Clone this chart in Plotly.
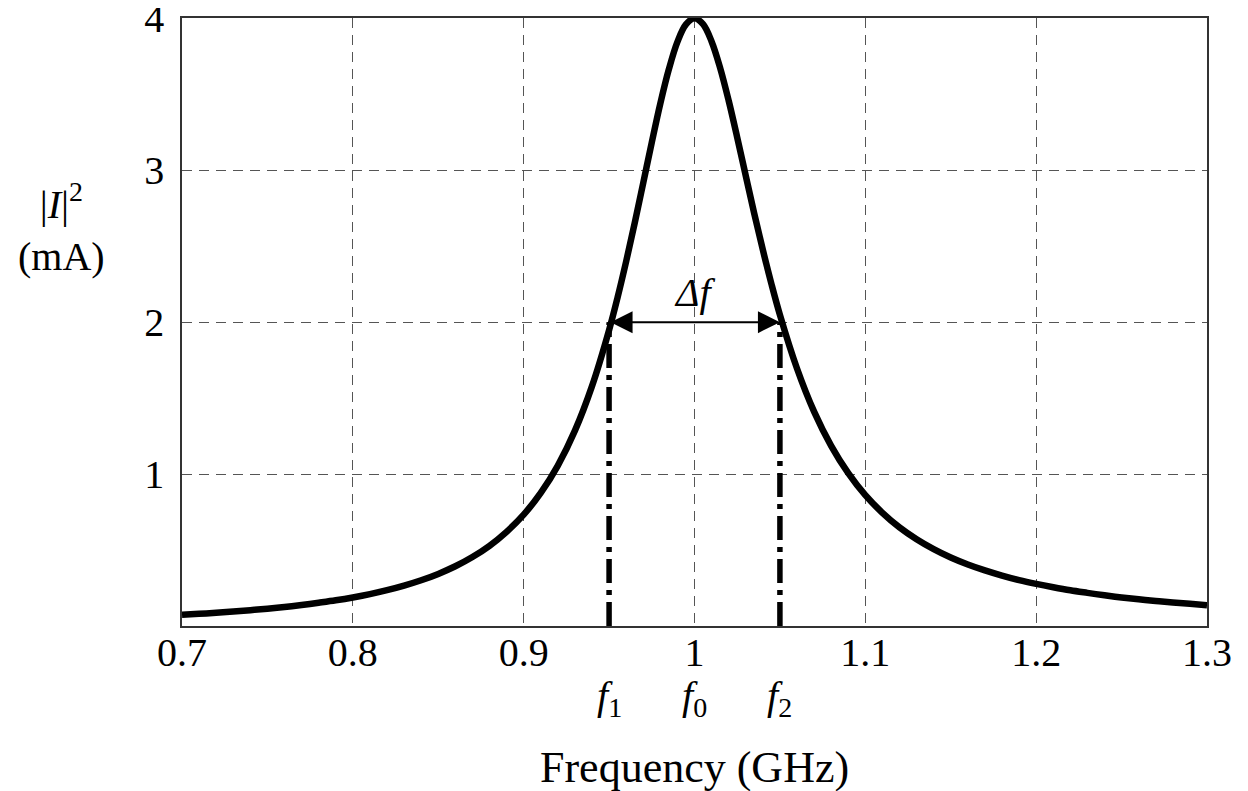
import plotly.graph_objs as go

# frequency samples (GHz) and |I|^2 (mA)
freq = [0.70, 0.71, 0.72, 0.73, 0.74, 0.75, 0.76, 0.77, 0.78, 0.79,
        0.80, 0.81, 0.82, 0.83, 0.84, 0.85, 0.86, 0.87, 0.88, 0.89,
        0.90, 0.91, 0.92, 0.93, 0.94, 0.95, 0.955, 0.96, 0.965, 0.97, 0.975,
        0.98, 0.985, 0.99, 0.995, 1.00, 1.005, 1.01, 1.015, 1.02, 1.025,
        1.03, 1.035, 1.04, 1.045, 1.05, 1.06, 1.07, 1.08, 1.09,
        1.10, 1.11, 1.12, 1.13, 1.14, 1.15, 1.16, 1.17, 1.18, 1.19,
        1.20, 1.21, 1.22, 1.23, 1.24, 1.25, 1.26, 1.27, 1.28, 1.29, 1.30]
current_sq = [0.074, 0.080, 0.087, 0.095, 0.104, 0.114, 0.125, 0.138, 0.153, 0.169,
              0.188, 0.210, 0.236, 0.266, 0.301, 0.343, 0.393, 0.454, 0.528, 0.620,
              0.733, 0.876, 1.056, 1.286, 1.579, 1.948, 2.164, 2.400, 2.653, 2.917, 3.183,
              3.439, 3.665, 3.845, 3.960, 4.000, 3.961, 3.848, 3.674, 3.458, 3.216,
              2.964, 2.714, 2.476, 2.253, 2.048, 1.695, 1.411, 1.186, 1.006,
              0.861, 0.745, 0.649, 0.571, 0.506, 0.451, 0.405, 0.366, 0.332, 0.302,
              0.277, 0.255, 0.235, 0.218, 0.202, 0.188, 0.176, 0.165, 0.155, 0.146, 0.137]

x_ticks = [0.7, 0.8, 0.9, 1.0, 1.1, 1.2, 1.3]
x_tick_text = ["0.7", "0.8", "0.9", "1", "1.1", "1.2", "1.3"]
y_ticks = [1, 2, 3, 4]

f1, f0, f2 = 0.95, 1.0, 1.05
half_power = 2

serif = "Liberation Serif, Times New Roman, serif"
grid_dash = "10px,7px"

fig = go.Figure()

fig.add_trace(
    go.Scatter(
        x=freq,
        y=current_sq,
        mode="lines",
        line=dict(color="black", width=6.5, shape="spline"),
        showlegend=False,
        hoverinfo="x+y",
    )
)

# dash-dot markers at the half-power frequencies
fig.add_trace(
    go.Scatter(
        x=[f1, f1, None, f2, f2],
        y=[0, half_power, None, 0, half_power],
        mode="lines",
        line=dict(color="black", width=5.5, dash="24px,7px,5px,7px"),
        showlegend=False,
        hoverinfo="skip",
    )
)

# double-headed arrow for the bandwidth
fig.add_annotation(
    x=f2, y=half_power, ax=f1, ay=half_power,
    xref="x", yref="y", axref="x", ayref="y",
    text="", showarrow=True,
    arrowhead=2, startarrowhead=2, arrowside="end+start",
    arrowsize=2.2, startarrowsize=2.2, arrowwidth=2, arrowcolor="black",
)
fig.add_annotation(
    x=f0, y=half_power, xref="x", yref="y", yshift=30,
    text="<i>Δf</i>", showarrow=False,
    font=dict(family=serif, size=40, color="black"),
)

# f1, f0, f2 labels under the tick labels
for fx, lab in [(f1, "1"), (f0, "0"), (f2, "2")]:
    fig.add_annotation(
        x=fx, y=0, xref="x", yref="paper", yanchor="middle", yshift=-72,
        text=f"<i>f</i><sub>{lab}</sub>", showarrow=False,
        font=dict(family=serif, size=40, color="black"),
    )

# axis titles
fig.add_annotation(
    x=0.5, y=0, xref="paper", yref="paper", yanchor="middle", yshift=-141,
    text="Frequency (GHz)", showarrow=False,
    font=dict(family=serif, size=44, color="black"),
)
fig.add_annotation(
    x=-0.118, y=0.655, xref="paper", yref="paper",
    xanchor="center", yanchor="middle",
    text="|<i>I</i>|<sup>2</sup><br>(mA)", showarrow=False,
    font=dict(family=serif, size=40, color="black"),
)

fig.update_layout(
    width=1240,
    height=783,
    margin=dict(l=174, r=41, t=10, b=165),
    plot_bgcolor="white",
    paper_bgcolor="white",
    font=dict(family=serif, color="black", size=40),
    xaxis=dict(
        range=[0.7, 1.3],
        tickvals=x_ticks,
        ticktext=x_tick_text,
        ticks="",
        ticklabelstandoff=-10,
        ticklabeloverflow="allow",
        automargin=False,
        showgrid=True,
        gridcolor="#555",
        gridwidth=1.4,
        griddash=grid_dash,
        showline=True,
        linecolor="#333",
        linewidth=1.5,
        mirror=True,
        zeroline=False,
    ),
    yaxis=dict(
        range=[0, 4.002],
        tickvals=y_ticks,
        ticks="",
        ticklabelstandoff=8,
        ticklabeloverflow="allow",
        automargin=False,
        showgrid=True,
        gridcolor="#555",
        gridwidth=1.4,
        griddash=grid_dash,
        showline=True,
        linecolor="#333",
        linewidth=1.5,
        mirror=True,
        zeroline=False,
    ),
)

fig.write_html("out.html")
